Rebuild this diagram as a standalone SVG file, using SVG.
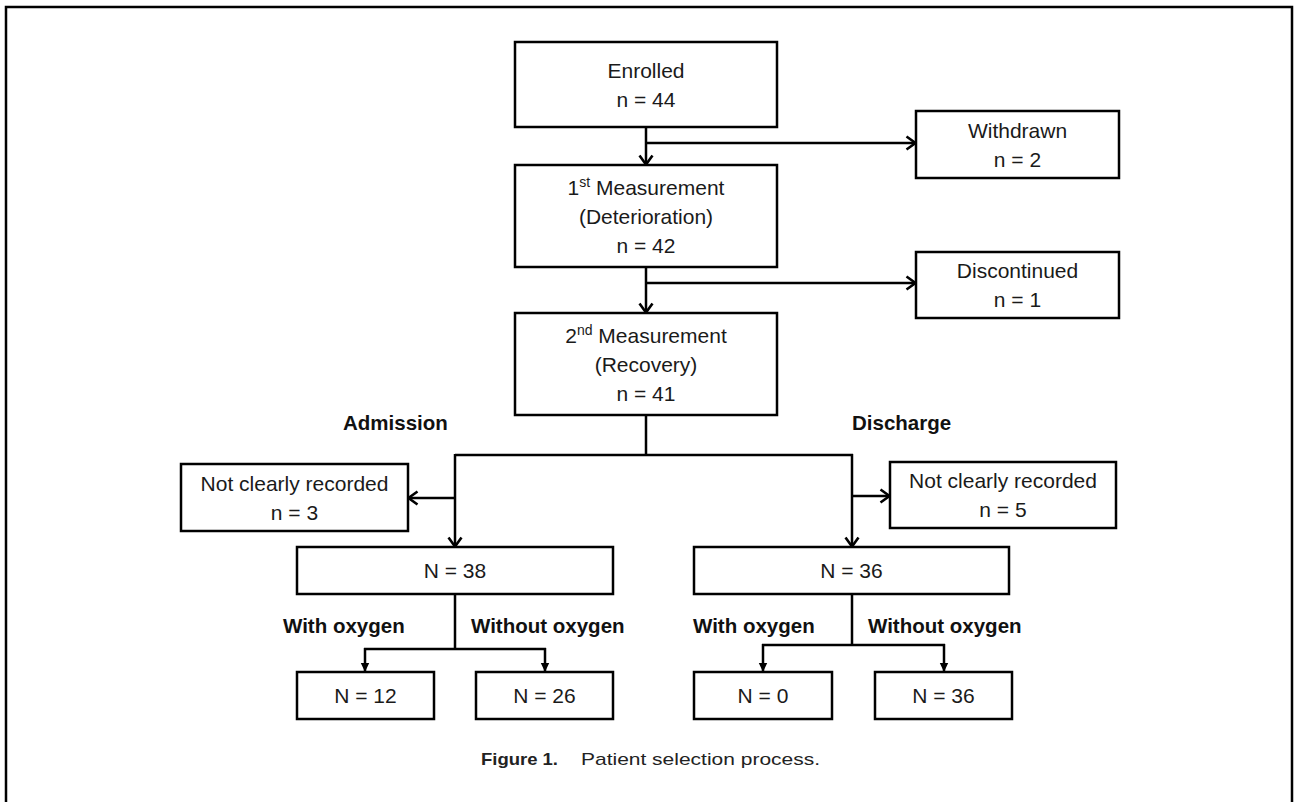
<svg xmlns="http://www.w3.org/2000/svg" width="1298" height="802" viewBox="0 0 1298 802">
<style>
.box{fill:#fff;stroke:#000;stroke-width:2.5}
.t{font-family:"Liberation Sans",Arial,sans-serif;font-size:21px;fill:#1a1a1a;text-anchor:middle}
.b{font-family:"Liberation Sans",Arial,sans-serif;font-size:20.5px;font-weight:bold;fill:#111}
.c{fill:none;stroke:#000;stroke-width:2.5}
.cap{font-family:"Liberation Sans",Arial,sans-serif;font-size:17px;fill:#222}
</style>
<defs>
<marker id="chev" markerUnits="userSpaceOnUse" markerWidth="16" markerHeight="16" viewBox="0 0 16 16" refX="12.5" refY="8" orient="auto">
<path d="M3,1.5 L12,8 L3,14.5" fill="none" stroke="#000" stroke-width="2.6"/>
</marker>
<marker id="tri" markerUnits="userSpaceOnUse" markerWidth="10" markerHeight="10" viewBox="0 0 10 10" refX="9" refY="5" orient="auto">
<path d="M0,0.8 L9,5 L0,9.2 z" fill="#000"/>
</marker>
</defs>
<rect width="1298" height="802" fill="#fff"/>
<path d="M6,802 V7 H1292 V802" fill="none" stroke="#000" stroke-width="2.5"/>

<g id="connectors">
<line class="c" x1="646" y1="127" x2="646" y2="165" marker-end="url(#chev)"/>
<line class="c" x1="646" y1="143" x2="916" y2="143" marker-end="url(#chev)"/>
<line class="c" x1="646" y1="267" x2="646" y2="313" marker-end="url(#chev)"/>
<line class="c" x1="646" y1="283" x2="916" y2="283" marker-end="url(#chev)"/>
<path class="c" d="M646,415 V455 M455,455 H853"/>
<line class="c" x1="455" y1="454" x2="455" y2="547" marker-end="url(#chev)"/>
<line class="c" x1="455" y1="498" x2="408" y2="498" marker-end="url(#chev)"/>
<line class="c" x1="852" y1="454" x2="852" y2="547" marker-end="url(#chev)"/>
<line class="c" x1="852" y1="496" x2="890" y2="496" marker-end="url(#chev)"/>
<path class="c" d="M455,594 V649 M364,649 H546"/>
<line class="c" x1="365" y1="648" x2="365" y2="672" marker-end="url(#tri)"/>
<line class="c" x1="545" y1="648" x2="545" y2="672" marker-end="url(#tri)"/>
<path class="c" d="M852,594 V645 M762,645 H945"/>
<line class="c" x1="763" y1="644" x2="763" y2="672" marker-end="url(#tri)"/>
<line class="c" x1="944" y1="644" x2="944" y2="672" marker-end="url(#tri)"/>
</g>

<g id="enrolled">
<rect class="box" x="515" y="42" width="262" height="85"/>
<text class="t" x="646" y="78">Enrolled</text>
<text class="t" x="646" y="107">n = 44</text>
</g>
<g id="withdrawn">
<rect class="box" x="916" y="111" width="203" height="67"/>
<text class="t" x="1017.5" y="137.5">Withdrawn</text>
<text class="t" x="1017.5" y="166.5">n = 2</text>
</g>
<g id="measurement1">
<rect class="box" x="515" y="165" width="262" height="102"/>
<text class="t" x="646" y="195">1<tspan font-size="14" dy="-8">st</tspan><tspan dy="8"> Measurement</tspan></text>
<text class="t" x="646" y="224">(Deterioration)</text>
<text class="t" x="646" y="253">n = 42</text>
</g>
<g id="discontinued">
<rect class="box" x="916" y="252" width="203" height="66"/>
<text class="t" x="1017.5" y="278">Discontinued</text>
<text class="t" x="1017.5" y="307">n = 1</text>
</g>
<g id="measurement2">
<rect class="box" x="515" y="313" width="262" height="102"/>
<text class="t" x="646" y="343">2<tspan font-size="14" dy="-8">nd</tspan><tspan dy="8"> Measurement</tspan></text>
<text class="t" x="646" y="372">(Recovery)</text>
<text class="t" x="646" y="401">n = 41</text>
</g>
<g id="labels">
<text class="b" x="343" y="430">Admission</text>
<text class="b" x="852" y="430">Discharge</text>
<text class="b" x="283" y="633">With oxygen</text>
<text class="b" x="471" y="633">Without oxygen</text>
<text class="b" x="693" y="633">With oxygen</text>
<text class="b" x="868" y="633">Without oxygen</text>
</g>
<g id="ncr-admission">
<rect class="box" x="181" y="464" width="227" height="67"/>
<text class="t" x="294.5" y="490.5">Not clearly recorded</text>
<text class="t" x="294.5" y="519.5">n = 3</text>
</g>
<g id="ncr-discharge">
<rect class="box" x="890" y="462" width="226" height="66"/>
<text class="t" x="1003" y="488">Not clearly recorded</text>
<text class="t" x="1003" y="517">n = 5</text>
</g>
<g id="n38">
<rect class="box" x="297" y="547" width="316" height="47"/>
<text class="t" x="455" y="578">N = 38</text>
</g>
<g id="n36">
<rect class="box" x="694" y="547" width="315" height="47"/>
<text class="t" x="851.5" y="578">N = 36</text>
</g>
<g id="n12">
<rect class="box" x="297" y="672" width="137" height="47"/>
<text class="t" x="365.5" y="703">N = 12</text>
</g>
<g id="n26">
<rect class="box" x="476" y="672" width="137" height="47"/>
<text class="t" x="544.5" y="703">N = 26</text>
</g>
<g id="n0">
<rect class="box" x="694" y="672" width="138" height="47"/>
<text class="t" x="763" y="703">N = 0</text>
</g>
<g id="n36b">
<rect class="box" x="875" y="672" width="137" height="47"/>
<text class="t" x="943.5" y="703">N = 36</text>
</g>
<g id="caption">
<text class="cap" x="481" y="765" font-weight="bold" textLength="77" lengthAdjust="spacingAndGlyphs">Figure 1.</text>
<text class="cap" x="581" y="765" textLength="239" lengthAdjust="spacingAndGlyphs">Patient selection process.</text>
</g>
</svg>
